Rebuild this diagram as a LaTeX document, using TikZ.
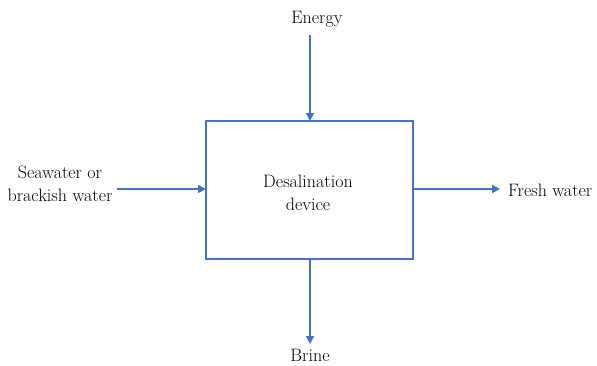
\documentclass[tikz,border=0pt]{standalone}
\usetikzlibrary{arrows.meta}
\definecolor{lineblue}{HTML}{4472C4}
\tikzset{
  conn/.style={draw=lineblue, line width=1.6pt, -{Triangle[length=8pt,width=8pt]}},
  lbl/.style={font=\fontsize{18}{23}\selectfont, text=black, inner sep=0pt, align=center}
}
\begin{document}
\begin{tikzpicture}[x=1pt,y=-1pt]
\useasboundingbox (0,0) rectangle (597,365);
\node[draw=lineblue, line width=1.6pt, minimum width=207pt, minimum height=138pt, inner sep=0pt] (box) at (309.5,190) {};
\node[lbl] (txt) at (308,193) {Desalination\\device};
\node[lbl] (energy) at (317,19) {Energy};
\coordinate (etop) at (310,35);
\coordinate (ebot) at (310,121);
\node[lbl] (brine) at (310,355) {Brine};
\coordinate (btop) at (310,259);
\coordinate (bbot) at (310,344);
\node[lbl] (sea) at (60,184) {Seawater or\\brackish water};
\coordinate (sl) at (117,189);
\coordinate (sr) at (206,189);
\node[lbl, anchor=west] (fresh) at (508,190) {Fresh water};
\coordinate (fl) at (413,189);
\coordinate (fr) at (500,189);
\draw[conn] (etop) -- (ebot);
\draw[conn] (btop) -- (bbot);
\draw[conn] (sl) -- (sr);
\draw[conn] (fl) -- (fr);
\end{tikzpicture}
\end{document}
